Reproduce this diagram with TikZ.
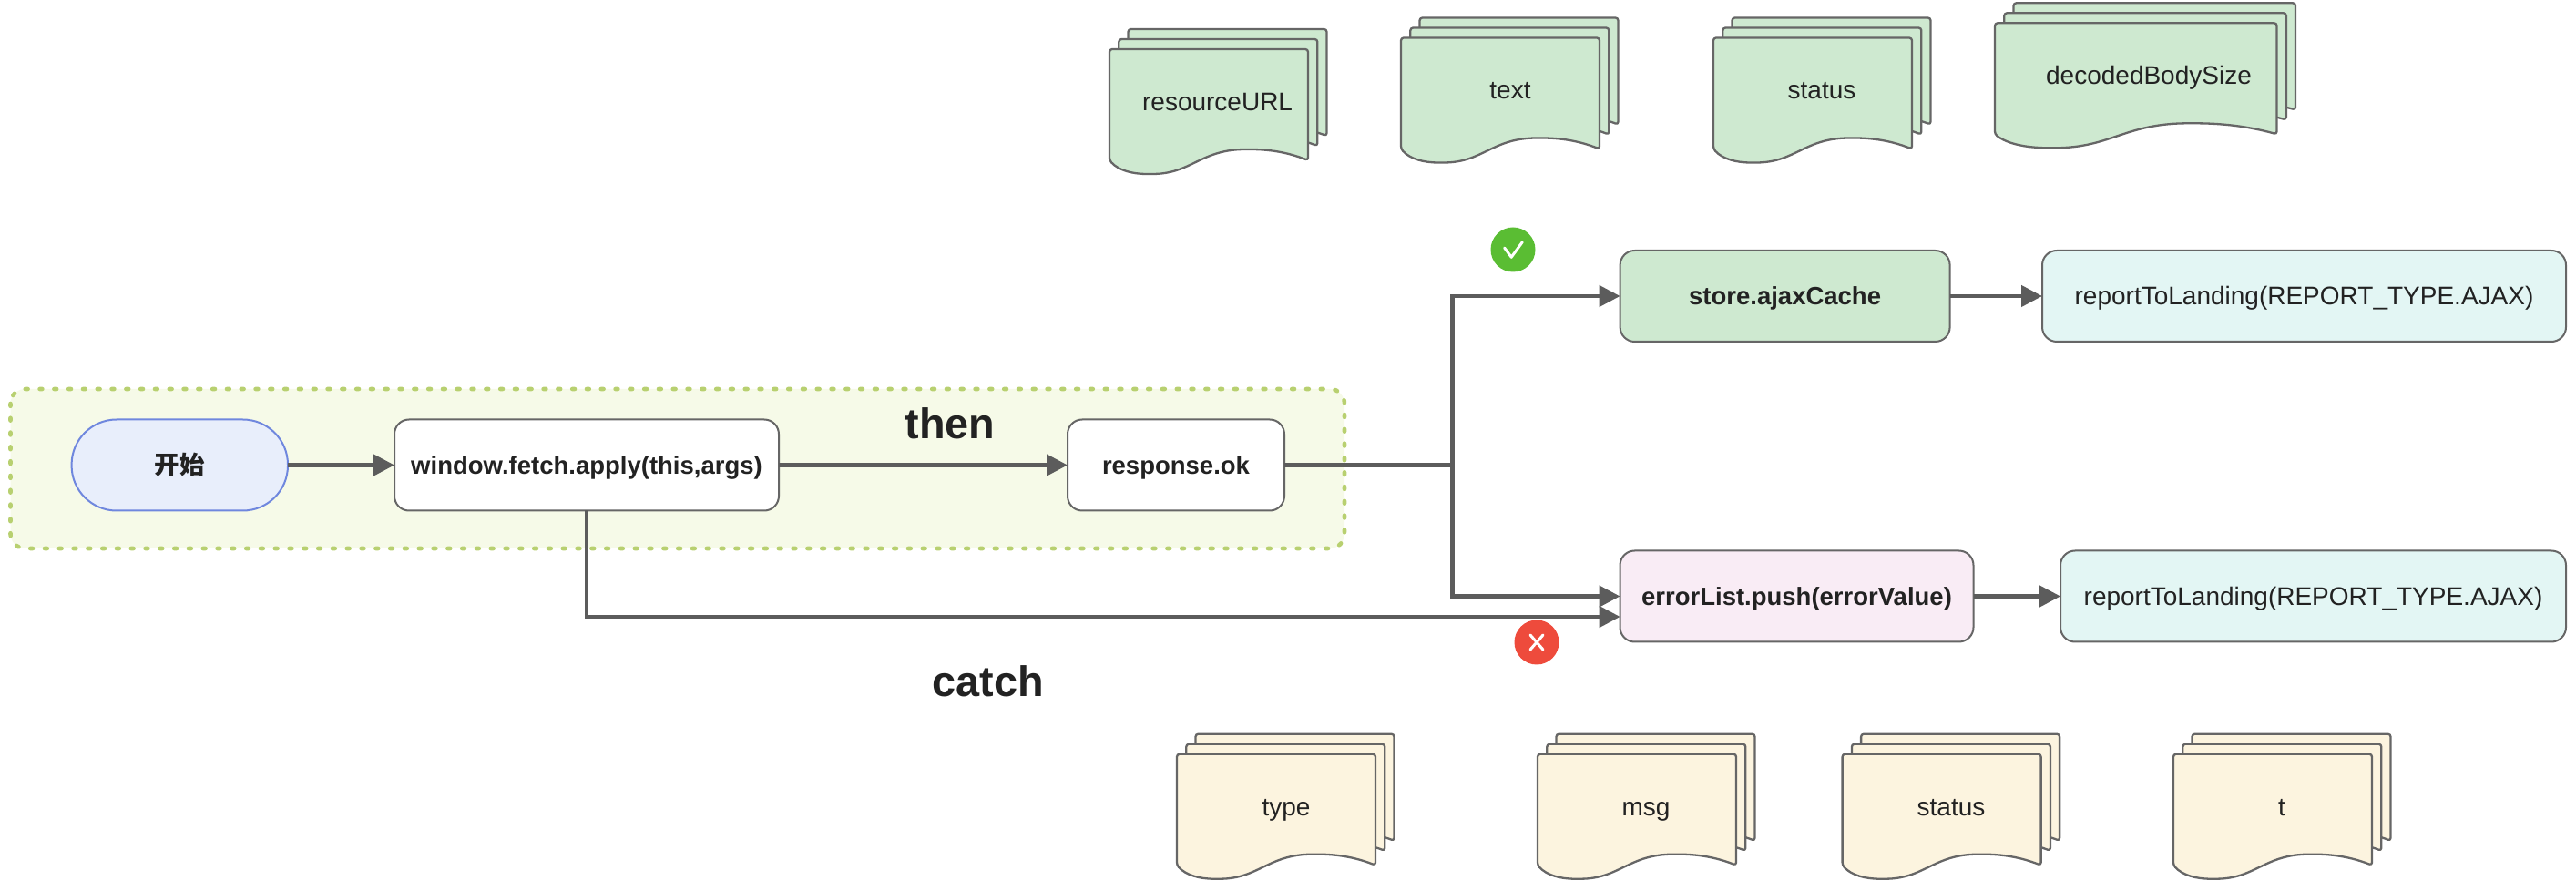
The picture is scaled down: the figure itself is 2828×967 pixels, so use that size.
\documentclass[tikz,border=0pt]{standalone}
\usepackage{fontspec}
\setmainfont{Liberation Sans}
\newfontfamily\cjkfont{Noto Sans CJK SC}
\usetikzlibrary{arrows.meta}
\definecolor{linegray}{HTML}{5C5C5C}
\definecolor{edgegray}{HTML}{666666}
\definecolor{inkdark}{HTML}{222222}
\definecolor{leaf}{HTML}{CEE9D0}
\definecolor{cream}{HTML}{FCF4DF}
\definecolor{blush}{HTML}{F9ECF5}
\definecolor{mint}{HTML}{E3F6F4}
\definecolor{startfill}{HTML}{E8EEFB}
\definecolor{startedge}{HTML}{6F87DE}
\definecolor{groupfill}{HTML}{F6FAE8}
\definecolor{groupedge}{HTML}{B8D070}
\definecolor{okgreen}{HTML}{5ABD33}
\definecolor{badred}{HTML}{EE4B3C}
\tikzset{
  boxbase/.style={draw=edgegray,line width=1pt,rounded corners=8pt,minimum height=50pt,inner sep=0pt,outer sep=0pt,
    text=inkdark,text height=10pt,text depth=0pt},
  plainbox/.style={boxbase,font=\fontsize{14}{16}\selectfont},
  boldbox/.style={boxbase,font=\fontsize{13.75}{16}\selectfont\bfseries},
  startbox/.style={boldbox,draw=startedge,fill=startfill,rounded corners=24.7pt},
  conn/.style={draw=linegray,line width=2.2pt},
  arrowconn/.style={conn,-{Triangle[length=11.5pt,width=11.5pt]}},
  groupbox/.style={draw=groupedge,fill=groupfill,line width=2.3pt,line cap=round,dash pattern=on 1.4pt off 6.5pt,rounded corners=8pt},
  pagebox/.style={draw=edgegray,line width=1.15pt,rounded corners=1.5pt,line join=round},
  doclabel/.style={text=inkdark,font=\fontsize{14}{16}\selectfont,inner sep=0pt,text height=10pt,text depth=0pt},
  bigword/.style={text=inkdark,font=\fontsize{23.4}{26}\selectfont\bfseries,inner sep=0pt,anchor=base},
  badge/.style={circle,minimum size=24.5pt,inner sep=0pt,outer sep=0pt},
  badgemark/.style={draw=white,line width=1.5pt,line cap=round,line join=round},
}
\newcommand{\pageshape}[4]{% x, y, xscale, yscale
  \begin{scope}[shift={(#1,#2)},xscale=#3,yscale=#4]
    \fill[fill=\docfill] (0,122) .. controls (10,133) and (25,137) .. (44,137) .. controls (90,137) and (100,110) .. (152,110) .. controls (175,110) and (195,113) .. (218,122) -- (218,0) -- (0,0) -- cycle;
    \draw[pagebox] (0,122) .. controls (10,133) and (25,137) .. (44,137) .. controls (90,137) and (100,110) .. (152,110) .. controls (175,110) and (195,113) .. (218,122) -- (218,0) -- (0,0) -- cycle;
  \end{scope}}
\newcommand{\docstack}[8]{% name, x, y, xscale, fill, label x, label y, label
  \def\docfill{#5}
  \pageshape{#2+20.5}{#3-22}{#4}{0.96}
  \pageshape{#2+10.3}{#3-11}{#4}{0.96}
  \pageshape{#2}{#3}{#4}{1}
  \node[doclabel] (#1) at (#6,#7) {#8};}
\begin{document}
\begin{tikzpicture}[x=0.5pt,y=-0.5pt]
\useasboundingbox (0,0) rectangle (2828,967);
% group
\draw[groupbox] (11.5,427) rectangle (1476,602);
% documents
\docstack{dresource}{1218}{54}{1}{leaf}{1336.6}{111.7}{resourceURL}
\docstack{dtext}{1538}{41.5}{1}{leaf}{1658}{99}{text}
\docstack{dstatus}{1881}{41.5}{1}{leaf}{2000}{99}{status}
\docstack{ddecoded}{2190}{25.3}{1.42}{leaf}{2359}{82.7}{decodedBodySize}
\docstack{dtype}{1292}{827.7}{1}{cream}{1412}{885}{type}
\docstack{dmsg}{1688}{827.7}{1}{cream}{1807}{885}{msg}
\docstack{dstatusb}{2022.6}{827.7}{1}{cream}{2142}{885}{status}
\docstack{dt}{2386}{827.7}{1}{cream}{2505}{885}{t}
% boxes
\node[startbox,minimum width=118.7pt] (start) at (197.3,510.5) {\cjkfont\bfseries 开始};
\node[boldbox,fill=white,minimum width=211pt] (fetch) at (644,510.5) {window.fetch.apply(this,args)};
\node[boldbox,fill=white,minimum width=119pt] (resp) at (1291,510.5) {response.ok};
\node[boldbox,fill=leaf,minimum width=181pt] (store) at (1959.6,325) {store.ajaxCache};
\node[boldbox,fill=blush,minimum width=194pt] (err) at (1972.5,654.5) {errorList.push(errorValue)};
\node[plainbox,fill=mint,minimum width=287.5pt] (repa) at (2529.5,325) {reportToLanding(REPORT\_TYPE.AJAX)};
\node[plainbox,fill=mint,minimum width=277.5pt] (repb) at (2539.5,654.5) {reportToLanding(REPORT\_TYPE.AJAX)};
% labels
\node[bigword] (thenword) at (1043,482) {then};
\node[bigword] (catchword) at (1085,764) {catch};
% badges
\node[badge,fill=okgreen] (okb) at (1661,274) {};
\draw[badgemark] ([shift={(-9.4,-2)}]okb.center) -- ([shift={(-1.8,8.3)}]okb.center) -- ([shift={(10.3,-8.3)}]okb.center);
\node[badge,fill=badred] (badb) at (1687,705) {};
\draw[badgemark] ([shift={(-7,-8)}]badb.center) -- ([shift={(7,8)}]badb.center);
\draw[badgemark] ([shift={(-7,8)}]badb.center) -- ([shift={(7,-8)}]badb.center);
% connectors
\coordinate (branch) at (1594.6,510.5);
\coordinate (errlow) at (1778.6,677);
\draw[arrowconn] (start) -- (fetch);
\draw[arrowconn] (fetch) -- (resp);
\draw[conn] (resp) -- (branch);
\draw[arrowconn] (branch) |- (store.west);
\draw[arrowconn] (branch) |- (err.west);
\draw[arrowconn] (fetch.south) |- (errlow);
\draw[arrowconn] (store) -- (repa);
\draw[arrowconn] (err) -- (repb);
\end{tikzpicture}
\end{document}
